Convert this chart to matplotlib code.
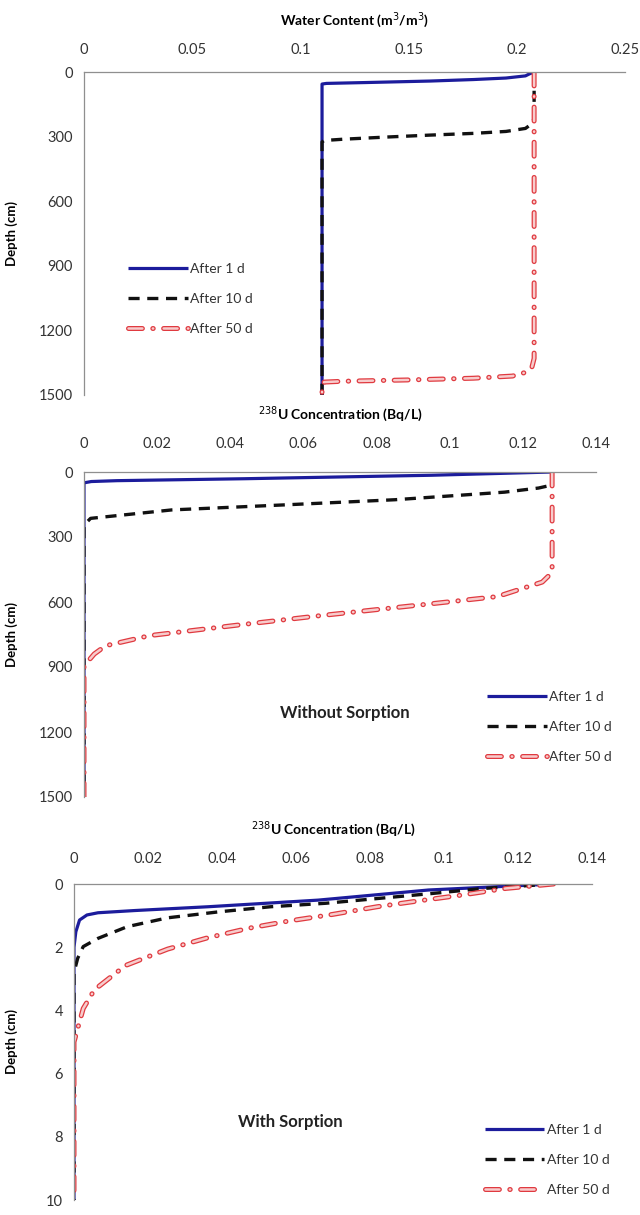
import matplotlib
matplotlib.use("Agg")
import matplotlib.pyplot as plt
import matplotlib.patheffects as pe

plt.rcParams["font.family"] = ["Lato", "DejaVu Sans"]
plt.rcParams["lines.scale_dashes"] = False

BLUE = "#1c1c9c"
BLACK = "#111111"
RED = "#e03a40"
PINK = "#f7cccc"
SPINE = "#8f8f8f"
TICK_TXT = "#333333"

labels = ["After 1 d", "After 10 d", "After 50 d"]

# water content (m3/m3) vs depth (cm)
wc_1d = [0.208, 0.206, 0.204, 0.195, 0.180, 0.160, 0.130, 0.112, 0.110, 0.110]
wc_1d_depth = [0, 8, 18, 28, 35, 42, 49, 53, 56, 1500]
wc_10d = [0.208, 0.208, 0.207, 0.204, 0.195, 0.180, 0.160, 0.140, 0.120, 0.111, 0.110, 0.110]
wc_10d_depth = [0, 215, 240, 262, 276, 285, 293, 302, 312, 318, 325, 1500]
wc_50d = [0.208, 0.208, 0.207, 0.204, 0.198, 0.180, 0.150, 0.120, 0.111, 0.110, 0.110]
wc_50d_depth = [0, 1330, 1370, 1395, 1412, 1422, 1430, 1436, 1440, 1450, 1500]

# 238U concentration (Bq/L), no sorption, depth in cm
ns_1d = [0.128, 0.095, 0.044, 0.009, 0.002, 0.0, 0.0]
ns_1d_depth = [0, 15, 31, 40, 44, 50, 1500]
ns_10d = [0.128, 0.128, 0.1243, 0.115, 0.085, 0.0545, 0.024, 0.0018, 0.0, 0.0]
ns_10d_depth = [0, 60, 74, 93, 128, 152, 175, 214, 245, 1500]
ns_50d = [0.128, 0.128, 0.127, 0.1253, 0.113, 0.095, 0.0646, 0.0423, 0.018, 0.0059, 0.0028, 0.0, 0.0]
ns_50d_depth = [0, 446, 480, 508, 575, 608, 663, 706, 755, 802, 840, 895, 1500]

# 238U concentration (Bq/L), with sorption, depth in cm
ws_1d = [0.1296, 0.0958, 0.066, 0.0362, 0.0164, 0.0065, 0.0035, 0.0015, 0.0005, 0.0, 0.0]
ws_1d_depth = [0, 0.19, 0.51, 0.72, 0.84, 0.91, 0.98, 1.14, 1.51, 2.0, 10]
ws_10d = [0.1296, 0.1107, 0.0968, 0.0829, 0.068, 0.0531, 0.0392, 0.0253, 0.0144, 0.0065, 0.0025, 0.001, 0.0, 0.0]
ws_10d_depth = [0, 0.14, 0.30, 0.45, 0.61, 0.72, 0.88, 1.07, 1.35, 1.72, 1.98, 2.35, 2.8, 10]
ws_50d = [0.1296, 0.1167, 0.1048, 0.0928, 0.0819, 0.070, 0.0581, 0.0472, 0.0362, 0.0253, 0.0139,
          0.0055, 0.0025, 0.001, 0.0, 0.0]
ws_50d_depth = [0, 0.14, 0.35, 0.54, 0.72, 0.96, 1.17, 1.40, 1.70, 2.06, 2.58, 3.35, 3.94, 4.57, 5.0, 10]

wc_ticks = [0, 0.05, 0.1, 0.15, 0.2, 0.25]
conc_ticks = [0, 0.02, 0.04, 0.06, 0.08, 0.1, 0.12, 0.14]
depth_ticks = [0, 300, 600, 900, 1200, 1500]
sorb_depth_ticks = [0, 2, 4, 6, 8, 10]

W, H = 640, 1215


def frac(left, top, right, bottom):
    return [left / W, 1 - bottom / H, (right - left) / W, (bottom - top) / H]


def style_axes(ax, xticks, yticks, xlabel, xpad=11):
    ax.set_xlim(xticks[0], xticks[-1])
    ax.set_ylim(yticks[-1], yticks[0])
    ax.set_xticks(xticks)
    ax.set_xticklabels([f"{t:g}" for t in xticks])
    ax.set_yticks(yticks)
    ax.xaxis.tick_top()
    ax.xaxis.set_label_position("top")
    for side in ("bottom", "right"):
        ax.spines[side].set_visible(False)
    for side in ("top", "left"):
        ax.spines[side].set_color(SPINE)
        ax.spines[side].set_linewidth(0.9)
    ax.tick_params(axis="x", length=0, pad=xpad, labelsize=10.5, labelcolor=TICK_TXT)
    ax.tick_params(axis="y", length=0, pad=8, labelsize=10.5, labelcolor=TICK_TXT)
    ax.set_xlabel(xlabel, fontsize=10, fontweight="bold", labelpad=13)
    ax.set_ylabel("Depth (cm)", fontsize=9.5, fontweight="bold")


def draw_series(ax, xs, ys):
    ax.plot(xs[0], ys[0], color=BLUE, lw=2.3, label=labels[0], solid_capstyle="butt")
    ax.plot(xs[1], ys[1], color=BLACK, lw=2.4, dashes=(8, 5.5), label=labels[1])
    ax.plot(xs[2], ys[2], color=PINK, lw=1.8, dashes=(10, 7.5, 0.3, 7.5), dash_capstyle="round",
            label=labels[2],
            path_effects=[pe.Stroke(linewidth=3.6, foreground=RED), pe.Normal()])


def add_legend(ax, x, y):
    ax.legend(loc="center left", bbox_to_anchor=(x, y), frameon=False, fontsize=10,
              handlelength=4.3, handletextpad=0.2, labelspacing=1.3, borderpad=0,
              borderaxespad=0, labelcolor="#333333")


fig = plt.figure(figsize=(W / 100, H / 100), dpi=100)

ax1 = fig.add_axes(frac(84, 72, 625, 395))
draw_series(ax1, [wc_1d, wc_10d, wc_50d], [wc_1d_depth, wc_10d_depth, wc_50d_depth])
style_axes(ax1, wc_ticks, depth_ticks, "Water Content (m$^3$/m$^3$)")
ax1.yaxis.set_label_coords(-0.122, 0.5)
add_legend(ax1, 0.081, 0.297)

ax2 = fig.add_axes(frac(84, 472, 596, 797))
draw_series(ax2, [ns_1d, ns_10d, ns_50d], [ns_1d_depth, ns_10d_depth, ns_50d_depth])
style_axes(ax2, conc_ticks, depth_ticks, "$^{238}$U Concentration (Bq/L)", xpad=15)
ax2.yaxis.set_label_coords(-0.129, 0.5)
add_legend(ax2, 0.787, 0.215)
ax2.text(0.51, 0.258, "Without Sorption", transform=ax2.transAxes, ha="center", va="center",
         fontsize=12, fontweight="bold", color="#222222")

ax3 = fig.add_axes(frac(74, 884, 592, 1200))
draw_series(ax3, [ws_1d, ws_10d, ws_50d], [ws_1d_depth, ws_10d_depth, ws_50d_depth])
style_axes(ax3, conc_ticks, sorb_depth_ticks, "$^{238}$U Concentration (Bq/L)", xpad=13)
ax3.yaxis.set_label_coords(-0.108, 0.5)
add_legend(ax3, 0.793, 0.127)
ax3.text(0.417, 0.247, "With Sorption", transform=ax3.transAxes, ha="center", va="center",
         fontsize=12, fontweight="bold", color="#222222")

fig.savefig("out.png", dpi=100)
